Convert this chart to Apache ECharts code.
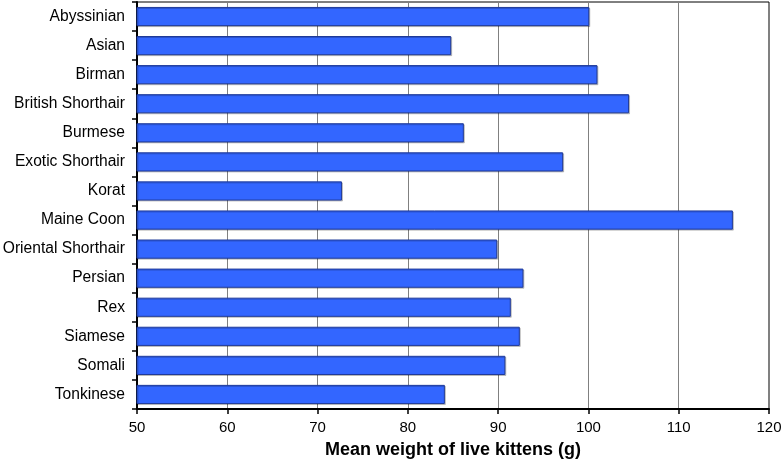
<!DOCTYPE html>
<html>
<head>
<meta charset="utf-8">
<script src="https://cdn.jsdelivr.net/npm/echarts@6/dist/echarts.min.js"></script>
<style>
	html, body { margin: 0; padding: 0; background: #fff; }
	#chart { width: 783px; height: 463px; }
</style>
</head>
<body>
<div id="chart"></div>
<script>
'use strict';
var breeds = ['Abyssinian', 'Asian', 'Birman', 'British Shorthair', 'Burmese', 'Exotic Shorthair', 'Korat',
	'Maine Coon', 'Oriental Shorthair', 'Persian', 'Rex', 'Siamese', 'Somali', 'Tonkinese'];
var meanWeight = [100.1, 84.8, 101.0, 104.5, 86.2, 97.2, 72.7, 116.0, 89.9, 92.8, 91.4, 92.4, 90.8, 84.1];
var xTicks = [50, 60, 70, 80, 90, 100, 110, 120];

var myChart = echarts.init(document.getElementById('chart'));
var option = {
	animation: false,
	grid: {
		left: 137,
		right: 14,
		top: 2,
		bottom: 54,
		containLabel: false,
		outerBoundsMode: 'none',
		show: true,
		borderColor: '#000',
		borderWidth: 1
	},
	xAxis: {
		type: 'value',
		min: xTicks[0],
		max: xTicks[xTicks.length - 1],
		interval: 10,
		name: 'Mean weight of live kittens (g)',
		nameLocation: 'middle',
		nameGap: 32,
		nameTextStyle: {
			fontFamily: 'Liberation Sans',
			fontSize: 18,
			fontWeight: 'bold',
			color: '#000'
		},
		axisLine: { show: true, lineStyle: { color: '#000', width: 2 } },
		axisTick: { show: true, length: 5, lineStyle: { color: '#000', width: 1.5 } },
		axisLabel: { fontFamily: 'Liberation Sans', fontSize: 15, color: '#000', margin: 11 },
		splitLine: { show: true, lineStyle: { color: '#808080', width: 1 } }
	},
	yAxis: {
		type: 'category',
		data: breeds,
		inverse: true,
		axisLine: { show: true, lineStyle: { color: '#000', width: 2 } },
		axisTick: { show: true, length: 5, lineStyle: { color: '#000', width: 1.5 } },
		axisLabel: { fontFamily: 'Liberation Sans', fontSize: 15.6, color: '#000', margin: 12 },
		splitLine: { show: false }
	},
	series: [{
		type: 'bar',
		data: meanWeight,
		barWidth: '66%',
		itemStyle: {
			color: '#3366ff',
			borderColor: '#1f3a99',
			borderWidth: 1,
			shadowColor: 'rgba(0,0,0,0.2)',
			shadowOffsetX: 1,
			shadowOffsetY: 1
		}
	}]
};
myChart.setOption(option);
</script>
</body>
</html>
